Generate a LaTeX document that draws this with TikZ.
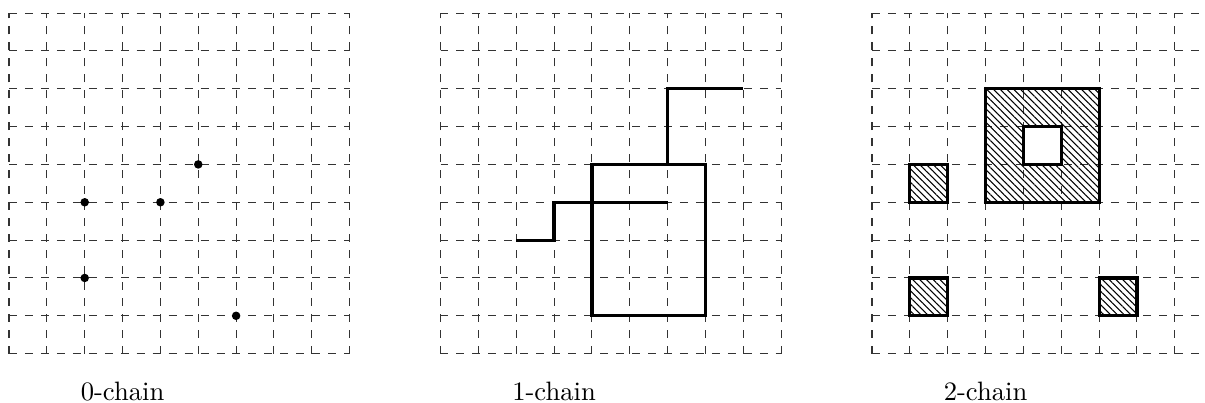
\documentclass[tikz,border=0pt]{standalone}
\usepackage{tikz}
\usetikzlibrary{patterns.meta}

\begin{document}
\begin{tikzpicture}[
  x=0.5cm, y=0.5cm,
  gridline/.style={dashed, black!80},
  chain/.style={line width=1.2pt, line join=miter},
  face/.style={chain, pattern={Lines[angle=-45, distance=1.8pt, line width=0.4pt]}},
  vertex/.style={circle, fill=black, inner sep=0pt, minimum size=3.2pt},
  caption/.style={font=\normalsize}
]
\useasboundingbox (-0.238,-1.303) rectangle (31.598,9.344);

% 0-chain
\begin{scope}
  \draw[gridline] (0,0) grid[step=0.5cm] (9,9);
  \node[vertex] (p1) at (5,5) {};
  \node[vertex] (p2) at (2,4) {};
  \node[vertex] (p3) at (4,4) {};
  \node[vertex] (p4) at (2,2) {};
  \node[vertex] (p5) at (6,1) {};
  \node[caption] (c0) at (3,-1) {0-chain};
\end{scope}

% 1-chain
\begin{scope}[xshift=5.7cm]
  \draw[gridline] (0,0) grid[step=0.5cm] (9,9);
  \draw[chain] (4,1) rectangle (7,5);
  \draw[chain] (2,3) -- (3,3) -- (3,4) -- (6,4);
  \draw[chain] (6,5) -- (6,7) -- (8,7);
  \node[caption] (c1) at (3,-1) {1-chain};
\end{scope}

% 2-chain
\begin{scope}[xshift=11.4cm]
  \draw[gridline] (0,0) grid[step=0.5cm] (9,9);
  \draw[face, even odd rule] (3,4) rectangle (6,7) (4,5) rectangle (5,6);
  \draw[face] (1,4) rectangle (2,5);
  \draw[face] (1,1) rectangle (2,2);
  \draw[face] (6,1) rectangle (7,2);
  \node[caption] (c2) at (3,-1) {2-chain};
\end{scope}

\end{tikzpicture}
\end{document}
